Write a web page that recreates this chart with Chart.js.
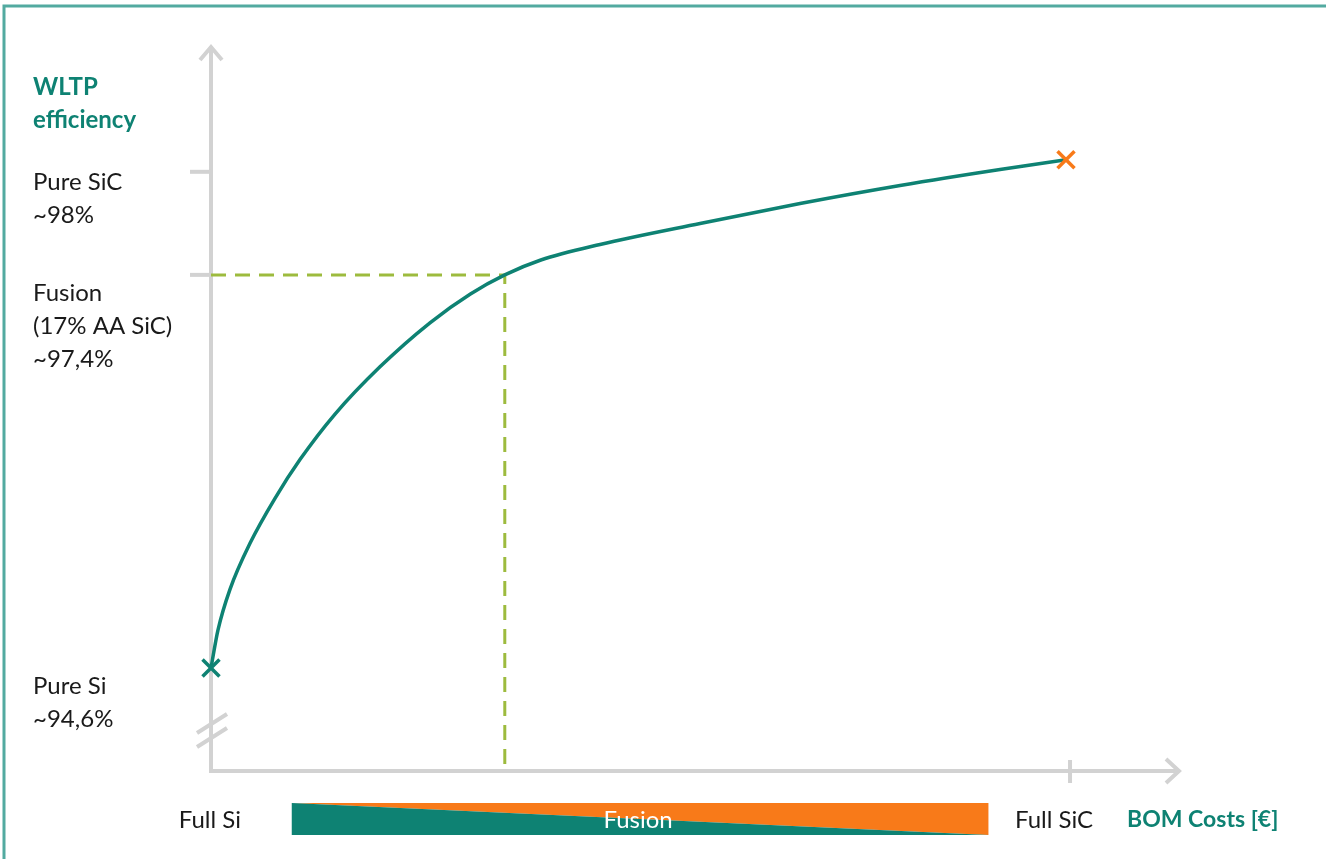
<!DOCTYPE html>
<html>
<head>
<meta charset="utf-8">
<script src="https://cdn.jsdelivr.net/npm/chart.js@4.4.0/dist/chart.umd.min.js"></script>
<style>
  html, body { margin: 0; padding: 0; background: #fff; overflow: hidden; }
  #wrap { position: relative; width: 1326px; height: 859px; }
</style>
</head>
<body>
<div id="wrap"><canvas id="effChart"></canvas></div>
<script>
// x: share of BOM cost (0 = full Si, 100 = full SiC), y: schematic efficiency level (100 = pure SiC)
const costShare = [0, 0.81, 2.21, 4.54, 7.45, 10.36, 14.44, 19.67, 25.49, 30.2, 34.2, 38.4, 45.29, 56.93, 68.57, 80.21, 91.85, 99.53];
const effLevel  = [17.2, 23.51, 30.32, 38, 45.51, 51.97, 59.57, 67.46, 74.81, 79.62, 82.8, 85.28, 87.88, 91.39, 94.72, 97.73, 100.4, 102];

const fusionPoint = { x: 34.2, y: 82.8 };
const pureSiPoint = { x: 0, y: 17.2 };
const pureSicPoint = { x: 99.53, y: 102 };

const yTickLevels = [100, 82.8];
const yLabelLevels = [100, 82.8, 17.2];
const yLabels = [['Pure SiC', '~98%'], ['Fusion', '(17% AA SiC)', '~97,4%'], ['Pure Si', '~94,6%']];
const xTickValues = [100];
const xLabels = ['Full Si', 'Full SiC'];
const yTitle = ['WLTP', 'efficiency'];
const xTitle = 'BOM Costs [€]';
const barLabel = 'Fusion';
const barRange = [9.4, 90.5];

const TEAL = '#0e8273';
const ORANGE = '#f87a19';
const GREEN = '#9dbb3e';
const GREY = '#d2d2d2';
const INK = '#1a1a1a';
const FONT = 'Lato, "Noto Sans", sans-serif';

const curveData = costShare.map((x, i) => ({ x: x, y: effLevel[i] }));

// axes, arrows, ticks, labels and the frame
const decorPlugin = {
    id: 'decor',
    beforeDatasetsDraw(chart) {
        const ctx = chart.ctx;
        const xs = chart.scales.x, ys = chart.scales.y;
        const area = chart.chartArea;
        const x0 = xs.getPixelForValue(0), y0 = ys.getPixelForValue(0);

        ctx.save();
        // frame
        ctx.strokeStyle = '#52aaa0';
        ctx.lineWidth = 3;
        ctx.beginPath();
        ctx.moveTo(4, 859);
        ctx.lineTo(4, 6);
        ctx.lineTo(1326, 6);
        ctx.stroke();

        ctx.strokeStyle = GREY;
        ctx.lineWidth = 4;
        ctx.lineJoin = 'miter';
        ctx.beginPath();
        ctx.moveTo(x0, area.top + 1);
        ctx.lineTo(x0, y0);
        ctx.lineTo(area.right - 1, y0);
        ctx.stroke();

        // arrow heads
        ctx.beginPath();
        ctx.moveTo(x0 - 11, area.top + 14);
        ctx.lineTo(x0, area.top + 1);
        ctx.lineTo(x0 + 11, area.top + 14);
        ctx.moveTo(area.right - 14, y0 - 12);
        ctx.lineTo(area.right - 1, y0);
        ctx.lineTo(area.right - 14, y0 + 12);
        ctx.stroke();

        // y ticks
        yTickLevels.forEach(v => {
            const py = ys.getPixelForValue(v);
            ctx.beginPath();
            ctx.moveTo(x0 - 21, py);
            ctx.lineTo(x0, py);
            ctx.stroke();
        });
        // x ticks
        xTickValues.forEach(v => {
            const px = xs.getPixelForValue(v);
            ctx.beginPath();
            ctx.moveTo(px, y0 - 11);
            ctx.lineTo(px, y0 + 12);
            ctx.stroke();
        });
        // axis break
        ctx.beginPath();
        ctx.moveTo(x0 - 14, y0 - 38);
        ctx.lineTo(x0 + 16, y0 - 57);
        ctx.moveTo(x0 - 14, y0 - 24);
        ctx.lineTo(x0 + 16, y0 - 43);
        ctx.stroke();

        // y labels
        ctx.textBaseline = 'middle';
        ctx.textAlign = 'left';
        ctx.fillStyle = TEAL;
        ctx.font = 'bold 24px ' + FONT;
        yTitle.forEach((t, i) => ctx.fillText(t, 33, area.top + 41 + i * 33));

        ctx.fillStyle = INK;
        ctx.font = '24px ' + FONT;
        const offs = [10, 18, 18];
        yLabels.forEach((lines, k) => {
            const py = ys.getPixelForValue(yLabelLevels[k]) + offs[k];
            lines.forEach((t, i) => ctx.fillText(t, 33, py + i * 33));
        });

        // x labels
        const ly = y0 + 49;
        ctx.textAlign = 'right';
        ctx.fillText(xLabels[0], x0 + 30, ly);
        ctx.textAlign = 'left';
        ctx.fillText(xLabels[1], xs.getPixelForValue(xTickValues[0]) - 55, ly);
        ctx.fillStyle = TEAL;
        ctx.font = 'bold 23px ' + FONT;
        ctx.fillText(xTitle, xs.getPixelForValue(xTickValues[0]) + 57, ly);

        // cost bar: Si share (teal) fading into SiC share (orange)
        const bx0 = xs.getPixelForValue(barRange[0]);
        const bx1 = xs.getPixelForValue(barRange[1]);
        const by0 = y0 + 32, by1 = y0 + 64;
        ctx.fillStyle = ORANGE;
        ctx.beginPath();
        ctx.moveTo(bx0, by0);
        ctx.lineTo(bx1, by0);
        ctx.lineTo(bx1, by1);
        ctx.closePath();
        ctx.fill();
        ctx.fillStyle = TEAL;
        ctx.beginPath();
        ctx.moveTo(bx0, by0);
        ctx.lineTo(bx1, by1);
        ctx.lineTo(bx0, by1);
        ctx.closePath();
        ctx.fill();
        ctx.fillStyle = '#ffffff';
        ctx.font = '24px ' + FONT;
        ctx.textAlign = 'center';
        ctx.fillText(barLabel, (bx0 + bx1) / 2 - 2, (by0 + by1) / 2 + 1);
        ctx.restore();
    }
};

const ctx = document.getElementById('effChart').getContext('2d');
const effChart = new Chart(ctx, {
    type: 'scatter',
    data: {
        datasets: [{
            label: 'Efficiency curve',
            data: curveData,
            showLine: true,
            borderColor: TEAL,
            borderWidth: 3.5,
            cubicInterpolationMode: 'monotone',
            pointRadius: 0,
            clip: false,
            order: 1
        }, {
            label: 'Fusion',
            data: [{ x: 0, y: fusionPoint.y }, fusionPoint, { x: fusionPoint.x, y: 0 }],
            showLine: true,
            borderColor: GREEN,
            borderWidth: 3,
            borderDash: [15, 9],
            tension: 0,
            pointRadius: 0,
            order: 2
        }, {
            label: 'Endpoints',
            data: [pureSiPoint, pureSicPoint],
            showLine: false,
            pointStyle: 'crossRot',
            pointRadius: 12,
            pointBorderWidth: 3.5,
            pointBorderColor: [TEAL, ORANGE],
            pointBackgroundColor: [TEAL, ORANGE],
            clip: false,
            order: 0
        }]
    },
    options: {
        responsive: true,
        maintainAspectRatio: false,
        animation: false,
        events: [],
        layout: {
            padding: { left: 211, right: 146, top: 46, bottom: 88 }
        },
        scales: {
            x: { type: 'linear', display: false, min: 0, max: 112.8 },
            y: { type: 'linear', display: false, min: 0, max: 121 }
        },
        plugins: {
            legend: { display: false },
            tooltip: { enabled: false }
        }
    },
    plugins: [decorPlugin]
});
</script>
</body>
</html>
